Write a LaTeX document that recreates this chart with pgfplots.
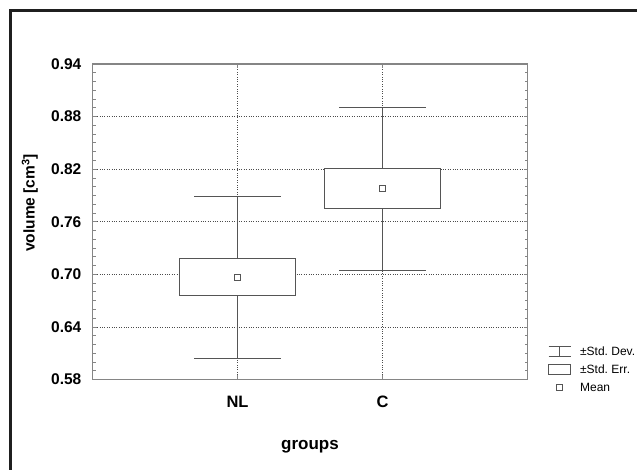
\documentclass[border=0pt]{standalone}
\usepackage{fontspec}
\setmainfont{Liberation Sans}
\usepackage{pgfplots}
\pgfplotsset{compat=1.18}
\usepgfplotslibrary{statistics}
\definecolor{boxc}{HTML}{555555}
\definecolor{axc}{HTML}{858585}
\frenchspacing
\begin{document}
\begin{tikzpicture}
\useasboundingbox (0,0) rectangle (637pt,470pt);
\fill[white] (0,0) rectangle (637pt,470pt);
\draw[line width=3pt, color=black!88] (10pt,-3pt) -- (10pt,459.5pt) -- (642pt,459.5pt);
\begin{axis}[
  at={(92.5pt,90.5pt)}, anchor=south west,
  scale only axis, width=435pt, height=315.5pt,
  xmin=0, xmax=3, ymin=0.58, ymax=0.94,
  xtick={1,2}, xticklabels={NL,C},
  ytick={0.58,0.64,0.70,0.76,0.82,0.88,0.94},
  minor y tick num=5,
  tick align=inside,
  major tick length=4pt, minor tick length=3pt,
  axis line style={axc, line width=1.2pt},
  tick style={axc, line width=0.8pt},
  grid=major,
  major grid style={dotted, black!70, line width=0.7pt},
  /pgf/number format/assume math mode=true,
  yticklabel style={/pgf/number format/.cd, fixed, fixed zerofill, precision=2, /tikz/.cd,
    font=\bfseries\fontsize{15.5}{18}\selectfont, anchor=east, inner sep=0pt, xshift=-11pt},
  xticklabel style={font=\bfseries\fontsize{16.5}{19}\selectfont, anchor=base, inner sep=0pt, yshift=-28pt},
  xlabel={groups},
  xlabel style={font=\bfseries\fontsize{17}{20}\selectfont, at={(axis description cs:0.5,-0.221)}, anchor=base},
  ylabel={volume [cm\textsuperscript{3}]},
  ylabel style={font=\bfseries\fontsize{15.5}{18}\selectfont, at={(axis description cs:-0.144,0.56)}, anchor=center},
  legend style={at={(axis description cs:1.047,0.107)}, anchor=north west, draw=none, fill=none,
    inner sep=0pt, font=\fontsize{12}{14}\selectfont, row sep=7.5pt, nodes={inner sep=0pt},
    /tikz/every odd column/.append style={column sep=9pt}},
  legend cell align=left,
  boxplot/draw direction=y,
  boxplot/draw/median/.code={},
]
\addplot[forget plot, draw=boxc, fill=white, line width=1.2pt,
  boxplot prepared={draw position=1, lower whisker=0.6040, lower quartile=0.6754,
    median=0.6966, upper quartile=0.7178, upper whisker=0.7892,
    box extend=0.8, whisker extend=0.6}] coordinates {};
\addplot[forget plot, draw=boxc, fill=white, line width=1.2pt,
  boxplot prepared={draw position=2, lower whisker=0.7047, lower quartile=0.7751,
    median=0.7977, upper quartile=0.8203, upper whisker=0.8907,
    box extend=0.8, whisker extend=0.6}] coordinates {};
\addplot[forget plot, only marks, mark=square*, mark size=3pt,
  mark options={fill=white, draw=boxc, line width=0.9pt}] coordinates {(1,0.6966) (2,0.7977)};
\addlegendimage{legend image code/.code={
  \draw[boxc, line width=1pt] (0pt,5pt) -- (22pt,5pt) (0pt,-5pt) -- (22pt,-5pt) (11pt,-5pt) -- (11pt,5pt);}}
\addlegendentry{±Std. Dev.}
\addlegendimage{legend image code/.code={\draw[boxc, line width=1pt] (0pt,-5pt) rectangle (22pt,5pt);}}
\addlegendentry{±Std. Err.}
\addlegendimage{legend image code/.code={\draw[boxc, line width=0.8pt] (8pt,-3pt) rectangle (14pt,3pt);}}
\addlegendentry{Mean}
\end{axis}
\end{tikzpicture}
\end{document}
